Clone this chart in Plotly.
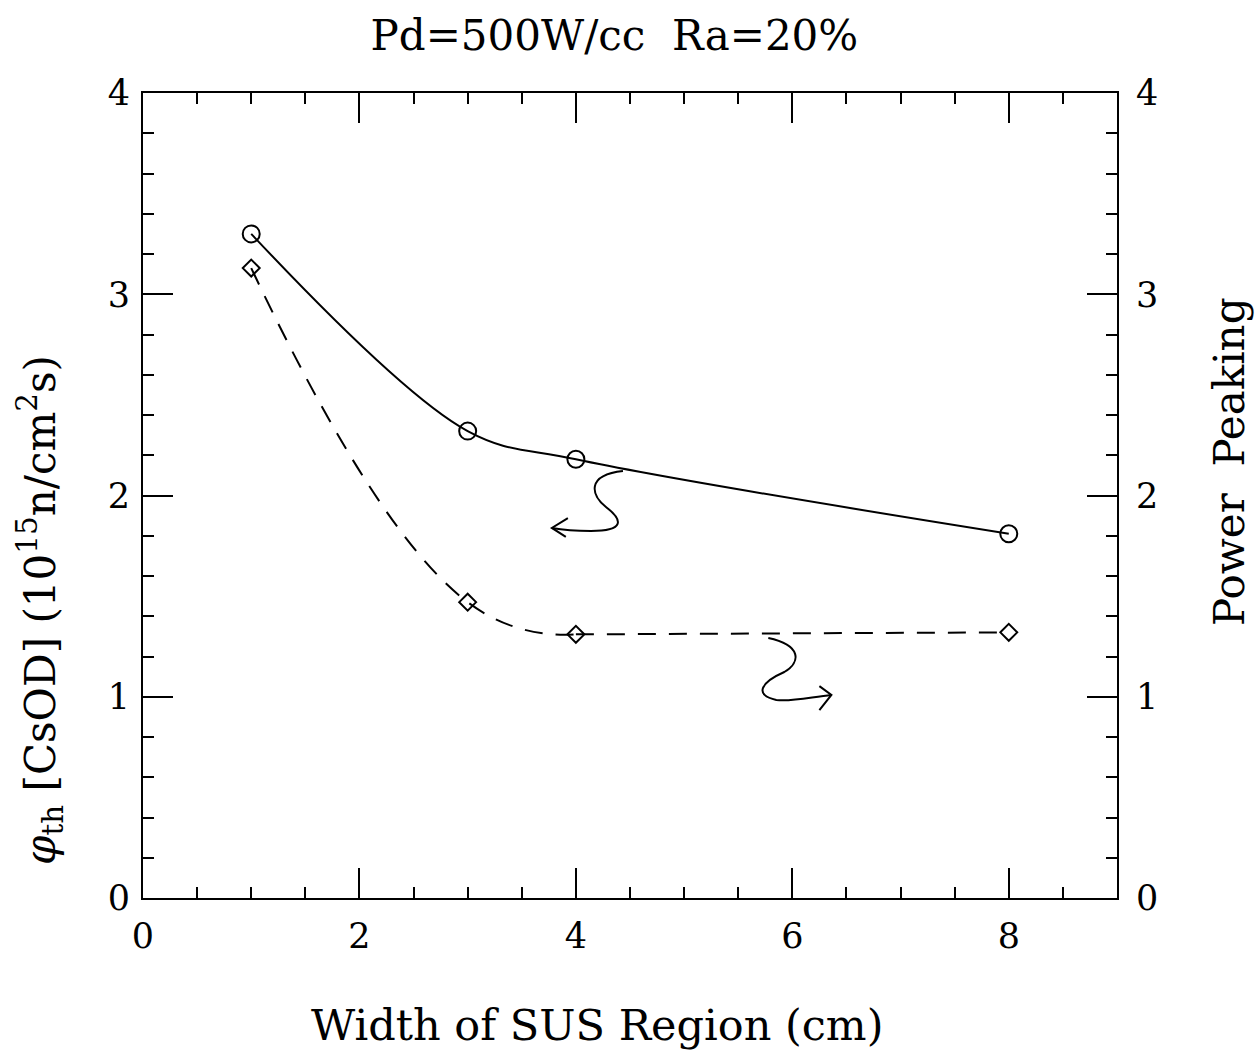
import plotly.graph_objects as go

# Data
width_cm = [1, 3, 4, 8]
flux_csod = [3.30, 2.32, 2.18, 1.81]       # phi_th [CsOD] (10^15 n/cm^2 s), left axis
power_peaking = [3.13, 1.47, 1.31, 1.32]   # right axis

x_ticks = [0, 2, 4, 6, 8]
y_ticks = [0, 1, 2, 3, 4]

title_text = "Pd=500W/cc\u00a0\u00a0Ra=20%"
x_title = "Width of SUS Region (cm)"
y_title = ("<i>φ</i><sub>th</sub>\u00a0[CsOD]\u00a0(10<sup>15</sup>n/cm<sup>2</sup>s)")
y2_title = "Power\u00a0\u00a0Peaking"

# Wavy arrow decorations (data coordinates)
arrow_left_path = ("M 4.435,2.122 C 4.093,2.102 4.139,2.002 4.278,1.943 "
                   "C 4.435,1.878 4.454,1.824 4.139,1.824 "
                   "C 4.0,1.824 3.880,1.829 3.778,1.839")
arrow_left_head = "M 3.926,1.888 L 3.778,1.839 L 3.907,1.794"
arrow_right_path = ("M 5.778,1.292 C 6.083,1.257 6.083,1.173 5.926,1.123 "
                    "C 5.713,1.073 5.639,1.009 5.852,0.984 "
                    "C 5.991,0.974 6.176,0.999 6.361,1.009")
arrow_right_head = "M 6.25,1.053 L 6.361,1.009 L 6.25,0.934"

FONT = "DejaVu Serif"
DASH = "18px,13px"
W, H = 1259, 1052

fig = go.Figure()
fig.add_trace(go.Scatter(
    x=width_cm, y=flux_csod, mode="lines+markers",
    line=dict(color="black", width=2, shape="spline", smoothing=1.0),
    marker=dict(symbol="circle-open", size=17, color="black", line=dict(width=2)),
    showlegend=False))
# Power peaking: smooth part through the first three points, straight tail
fig.add_trace(go.Scatter(
    x=width_cm[:3], y=power_peaking[:3], mode="lines", yaxis="y2",
    line=dict(color="black", width=2, shape="spline", smoothing=1.3, dash=DASH),
    showlegend=False))
fig.add_trace(go.Scatter(
    x=width_cm[2:], y=power_peaking[2:], mode="lines", yaxis="y2",
    line=dict(color="black", width=2, dash=DASH),
    showlegend=False))
fig.add_trace(go.Scatter(
    x=width_cm, y=power_peaking, mode="markers", yaxis="y2",
    marker=dict(symbol="diamond-open", size=13, color="black", line=dict(width=2)),
    showlegend=False))

for p in [arrow_left_path, arrow_left_head, arrow_right_path, arrow_right_head]:
    fig.add_shape(type="path", path=p, xref="x", yref="y",
                  line=dict(color="black", width=2))

tickfont = dict(family=FONT, size=35, color="black")

# Axis titles as paper-positioned annotations
def paper_x(px):
    return (px - 143) / (W - 143 - 142)

def paper_y(py):
    return (H - 154 - py) / (H - 93 - 154)

fig.add_annotation(text=x_title, x=paper_x(597), y=paper_y(1025), xref="paper", yref="paper",
                   xanchor="center", yanchor="middle", showarrow=False,
                   font=dict(family=FONT, size=43, color="black"))
fig.add_annotation(text=y_title, x=paper_x(40), y=paper_y(610), xref="paper", yref="paper",
                   xanchor="center", yanchor="middle", showarrow=False, textangle=-90,
                   font=dict(family=FONT, size=42, color="black"))
fig.add_annotation(text=y2_title, x=paper_x(1230), y=paper_y(462), xref="paper", yref="paper",
                   xanchor="center", yanchor="middle", showarrow=False, textangle=-90,
                   font=dict(family=FONT, size=42, color="black"))

fig.update_layout(
    width=W, height=H,
    margin=dict(l=143, r=142, t=93, b=154),
    paper_bgcolor="white", plot_bgcolor="white",
    title=dict(text=title_text, x=0.488, xanchor="center",
               y=1 - 35 / H, yanchor="middle", yref="container",
               font=dict(family=FONT, size=42, color="black")),
    xaxis=dict(range=[0, 9], tickvals=x_ticks, ticks="inside", ticklen=30,
               tickwidth=2, tickcolor="black", showline=True, linecolor="black",
               linewidth=2, mirror="ticks", showgrid=False, zeroline=False,
               tickfont=tickfont, ticklabelstandoff=6,
               minor=dict(dtick=0.5, ticks="inside", ticklen=11, tickwidth=1.5,
                          tickcolor="black", showgrid=False)),
    yaxis=dict(range=[0, 4], tickvals=y_ticks, ticks="inside", ticklen=30,
               tickwidth=2, tickcolor="black", showline=True, linecolor="black",
               linewidth=2, mirror="ticks", showgrid=False, zeroline=False,
               tickfont=tickfont, ticklabelstandoff=4,
               minor=dict(dtick=0.2, ticks="inside", ticklen=11, tickwidth=1.5,
                          tickcolor="black", showgrid=False)),
    yaxis2=dict(range=[0, 4], tickvals=y_ticks, overlaying="y", side="right",
                ticks="", showline=False, showgrid=False, zeroline=False,
                tickfont=tickfont, ticklabelstandoff=18),
)

fig.write_html("out.html")
